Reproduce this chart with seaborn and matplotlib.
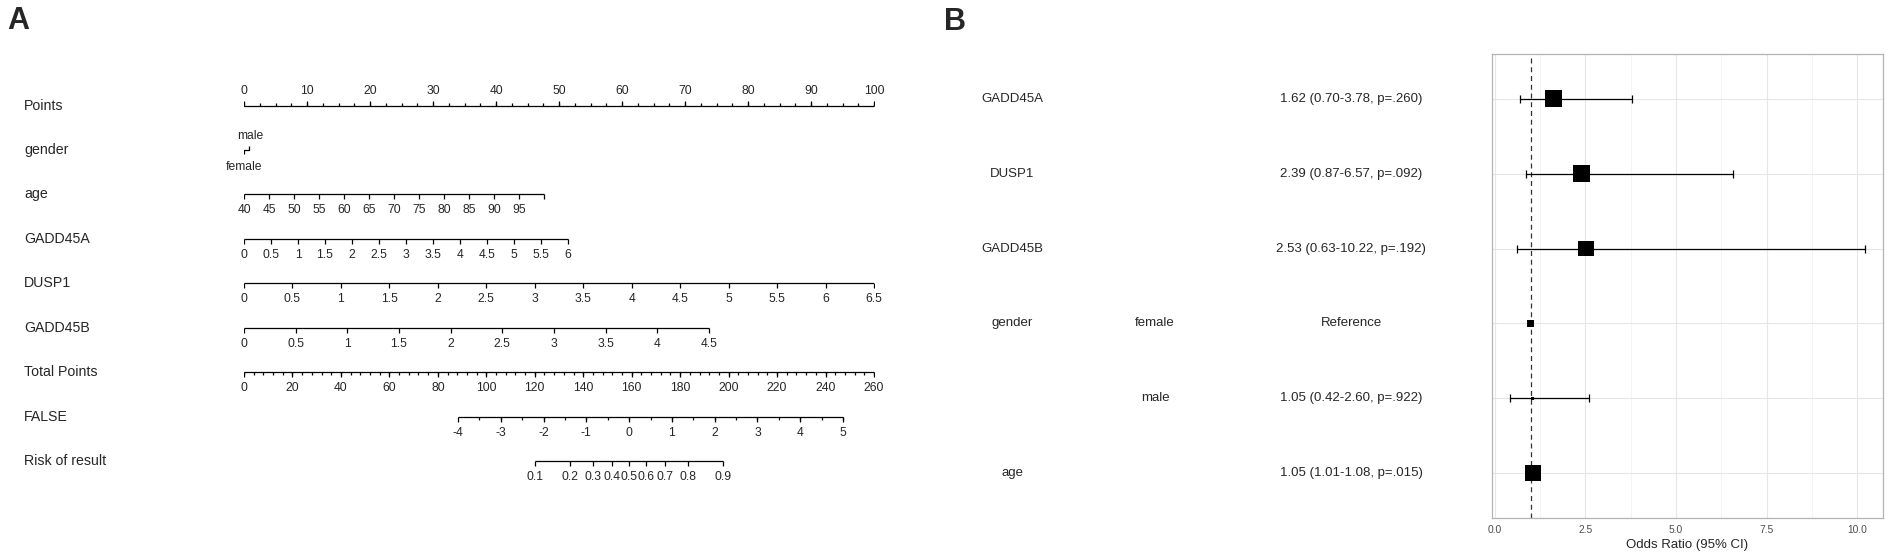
import numpy as np
import pandas as pd
import matplotlib
matplotlib.use("Agg")
import matplotlib.pyplot as plt
import matplotlib.transforms as mtransforms
import seaborn as sns

sns.set_style("white")
plt.rcParams['font.family'] = ['Liberation Sans', 'DejaVu Sans']

# ---------------- Panel A : nomogram data ----------------
row_names = ["Points", "gender", "age", "GADD45A", "DUSP1", "GADD45B",
             "Total Points", "FALSE", "Risk of result"]

points_ticks = [0, 10, 20, 30, 40, 50, 60, 70, 80, 90, 100]
points_minor_step = 2.5

gender_levels = ["female", "male"]
gender_points = [0.0, 0.8]

age_ticks = [40, 45, 50, 55, 60, 65, 70, 75, 80, 85, 90, 95, 100]
age_labels = ["40", "45", "50", "55", "60", "65", "70", "75", "80", "85", "90", "95", ""]
age_points_per_unit = 0.794

gadd45a_ticks = [0, 0.5, 1, 1.5, 2, 2.5, 3, 3.5, 4, 4.5, 5, 5.5, 6]
gadd45a_points_per_unit = 8.57

dusp1_ticks = [0, 0.5, 1, 1.5, 2, 2.5, 3, 3.5, 4, 4.5, 5, 5.5, 6, 6.5]
dusp1_points_per_unit = 15.385

gadd45b_ticks = [0, 0.5, 1, 1.5, 2, 2.5, 3, 3.5, 4, 4.5]
gadd45b_points_per_unit = 16.40

total_ticks = [0, 20, 40, 60, 80, 100, 120, 140, 160, 180, 200, 220, 240, 260]
total_minor_step = 4
total_max = 260

lp_ticks = [-4, -3, -2, -1, 0, 1, 2, 3, 4, 5]
lp_at_zero_total = -9.0
lp_points_per_unit = 17.66

risk_ticks = [0.1, 0.2, 0.3, 0.4, 0.5, 0.6, 0.7, 0.8, 0.9]

# ---------------- Panel B : forest plot data ----------------
fp_vars = ["GADD45A", "DUSP1", "GADD45B", "gender", "", "age"]
fp_levels = ["", "", "", "female", "male", ""]
fp_or = [1.62, 2.39, 2.53, 1.00, 1.05, 1.05]
fp_lo = [0.70, 0.87, 0.63, np.nan, 0.42, 1.01]
fp_hi = [3.78, 6.57, 10.22, np.nan, 2.60, 1.08]
fp_text = ["1.62 (0.70-3.78, p=.260)", "2.39 (0.87-6.57, p=.092)",
           "2.53 (0.63-10.22, p=.192)", "Reference",
           "1.05 (0.42-2.60, p=.922)", "1.05 (1.01-1.08, p=.015)"]
fp_weight = [150, 150, 130, 25, 5, 135]
fp_xticks = [0.0, 2.5, 5.0, 7.5, 10.0]

# ---------------- figure ----------------
W, H = 1901, 560
fig = plt.figure(figsize=(W / 100, H / 100), dpi=100)
fig.patch.set_facecolor("white")

# nomogram axes: x in "Points" units, y in row index
row_px0, row_dpx = 105.5, 44.45
axA = fig.add_axes([244 / W, 0, (874 - 244) / W, 1])
axA.set_xlim(0, 100)
axA.set_ylim((H - row_px0) / row_dpx, -row_px0 / row_dpx)
axA.axis("off")

LW = 0.9
TICK_FS = 8.7


def draw_scale(row, xs, labels, up=False, minor=None, off=16):
    xs = np.asarray(xs, float)
    allx = xs if minor is None else np.concatenate([xs, minor])
    axA.plot([allx.min(), allx.max()], [row, row], color="black", lw=LW,
             solid_capstyle="butt")
    mk = 2 if up else 3
    axA.plot(xs, [row] * len(xs), ls="none", marker=mk, ms=3.8, mew=LW, color="black")
    if minor is not None:
        axA.plot(minor, [row] * len(minor), ls="none", marker=mk, ms=2.0, mew=LW,
                 color="black")
    for x, lab in zip(xs, labels):
        axA.annotate(lab, (x, row), xytext=(0, off if up else -off),
                     textcoords="offset pixels", ha="center", va="center",
                     fontsize=TICK_FS)


# Points
pm = np.arange(points_ticks[0], points_ticks[-1] + 1e-9, points_minor_step)
draw_scale(0, points_ticks, [str(t) for t in points_ticks], up=True, minor=pm, off=15)

# gender
gx = np.array(gender_points)
axA.plot(gx, [1, 1], color="black", lw=LW)
axA.plot([gx[0]], [1], marker=3, ms=3.0, mew=LW, color="black")
axA.plot([gx[1]], [1], marker=2, ms=3.0, mew=LW, color="black")
axA.annotate(gender_levels[0], (gx[0], 1), xytext=(0, -17), textcoords="offset pixels",
             ha="center", va="center", fontsize=TICK_FS)
axA.annotate(gender_levels[1], (gx[1], 1), xytext=(1, 14), textcoords="offset pixels",
             ha="center", va="center", fontsize=TICK_FS)

# age
draw_scale(2, (np.array(age_ticks) - age_ticks[0]) * age_points_per_unit, age_labels)


def fmt(v):
    return ("%g" % v)


draw_scale(3, np.array(gadd45a_ticks) * gadd45a_points_per_unit, [fmt(v) for v in gadd45a_ticks])
draw_scale(4, np.array(dusp1_ticks) * dusp1_points_per_unit, [fmt(v) for v in dusp1_ticks])
draw_scale(5, np.array(gadd45b_ticks) * gadd45b_points_per_unit, [fmt(v) for v in gadd45b_ticks])

# Total points
tscale = 100.0 / total_max
tm = np.arange(total_ticks[0], total_ticks[-1] + 1e-9, total_minor_step) * tscale
draw_scale(6, np.array(total_ticks) * tscale, [str(t) for t in total_ticks], minor=tm)

# Linear predictor
lp = np.array(lp_ticks, float)
lp_x = (lp - lp_at_zero_total) * lp_points_per_unit * tscale
lp_minor = ((np.arange(lp[0], lp[-1], 0.5) + 0.5) - lp_at_zero_total) * lp_points_per_unit * tscale
draw_scale(7, lp_x, [str(int(v)) for v in lp], minor=lp_minor)

# Risk
rk = np.array(risk_ticks)
rk_lp = np.log(rk / (1 - rk))
draw_scale(8, (rk_lp - lp_at_zero_total) * lp_points_per_unit * tscale, [fmt(v) for v in rk])

# row labels
trA = mtransforms.blended_transform_factory(fig.transFigure, axA.transData)
for i, name in enumerate(row_names):
    axA.text(24 / W, i, name, transform=trA, ha="left", va="center", fontsize=10.2)

fig.text(7 / W, 1 - 21 / H, "A", fontsize=22, fontweight="bold", ha="left", va="center")
fig.text(944 / W, 1 - 22 / H, "B", fontsize=22, fontweight="bold", ha="left", va="center")

# ---------------- forest plot ----------------
bx0, bx1, by0, by1 = 1492, 1883, 54, 518
axB = fig.add_axes([bx0 / W, 1 - by1 / H, (bx1 - bx0) / W, (by1 - by0) / H])
rows = np.arange(1, len(fp_or) + 1)
df = pd.DataFrame({"or": fp_or, "lo": fp_lo, "hi": fp_hi, "row": rows, "w": fp_weight})

lo_all, hi_all = np.nanmin(fp_lo), np.nanmax(fp_hi)
pad = 0.05 * (hi_all - lo_all)
axB.set_xlim(lo_all - pad, hi_all + pad)
axB.set_ylim(len(rows) + 0.6, 0.4)
axB.set_facecolor("white")
for x in fp_xticks:
    axB.axvline(x, color="#e6e6e6", lw=0.8, zorder=0)
for x in np.array(fp_xticks[:-1]) + 1.25:
    axB.axvline(x, color="#f3f3f3", lw=0.6, zorder=0)
for r in rows:
    axB.axhline(r, color="#e6e6e6", lw=0.8, zorder=0)
axB.axvline(1, color="#333333", lw=0.9, ls=(0, (4, 3)), zorder=1)

ci = df.dropna()
axB.errorbar(ci["or"], ci["row"], xerr=[ci["or"] - ci["lo"], ci["hi"] - ci["or"]],
             fmt="none", ecolor="black", elinewidth=0.9, capsize=3.2, capthick=0.9, zorder=2)
sns.scatterplot(data=df, x="or", y="row", size="w", sizes=(min(fp_weight), max(fp_weight)),
                size_norm=(min(fp_weight), max(fp_weight)), marker="s", color="black",
                edgecolor="none", legend=False, ax=axB, zorder=3)

axB.set_yticks([])
axB.set_xticks(fp_xticks)
axB.set_xticklabels(["%.1f" % v for v in fp_xticks], fontsize=7.4, color="#4d4d4d")
axB.tick_params(axis="x", direction="out", length=3, width=0.8, color="#b3b3b3", pad=2)
axB.set_xlabel("Odds Ratio (95% CI)", fontsize=9.5, labelpad=3)
axB.set_ylabel("")
for s in axB.spines.values():
    s.set_color("#b3b3b3")
    s.set_linewidth(0.9)
    s.set_visible(True)

trB = mtransforms.blended_transform_factory(fig.transFigure, axB.transData)
for r, v, lev, t in zip(rows, fp_vars, fp_levels, fp_text):
    axB.text(1012 / W, r, v, transform=trB, ha="center", va="center", fontsize=9.5)
    axB.text(1155 / W, r, lev, transform=trB, ha="center", va="center", fontsize=9.5)
    axB.text(1351 / W, r, t, transform=trB, ha="center", va="center", fontsize=9.5)

fig.savefig("out.png", dpi=100, facecolor="white")
